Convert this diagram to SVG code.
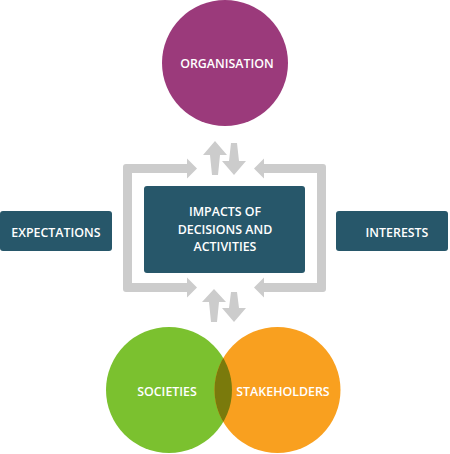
<svg xmlns="http://www.w3.org/2000/svg" width="450" height="454" viewBox="0 0 450 454">
<style>
.lbl{font-family:"Open Sans","Liberation Sans",sans-serif;font-weight:600;font-size:12.4px;fill:#ffffff;text-anchor:middle;dominant-baseline:central}
.box{fill:#27576A}
.conn{fill:#CCCCCC}
</style>
<defs>
<clipPath id="clipGreen"><circle cx="169" cy="390" r="63"/></clipPath>
</defs>
<rect width="450" height="454" fill="#ffffff"/>
<g id="connectors">
<path class="conn" d="M197,168.5 L187,158.5 L187,164 L126,164 Q123,164 123,167 L123,289 Q123,292 126,292 L187,292 L187,297.5 L197,287.5 L187,277.5 L187,283 L132,283 L132,173 L187,173 L187,178.5 Z"/>
<path class="conn" d="M254,168.5 L264,158.5 L264,164 L323,164 Q326,164 326,167 L326,289 Q326,292 323,292 L264,292 L264,297.5 L254,287.5 L264,277.5 L264,283 L317,283 L317,173 L264,173 L264,178.5 Z"/>
<path class="conn" d="M215,141 L227,155 L220,155 L218,175 L212,175 L210,155 L203,155 Z"/>
<path class="conn" d="M231,143 L237,143 L239,161 L246,161 L234,175 L222,161 L229,161 Z"/>
<path class="conn" d="M214,289 L226,302 L219,302 L217,322 L211,322 L209,302 L202,302 Z"/>
<path class="conn" d="M231,292 L237,292 L239,308 L246,308 L234,322 L222,308 L229,308 Z"/>
</g>
<g id="organisation">
<circle cx="225" cy="63" r="63" fill="#9B3A7B"/>
<text class="lbl" x="227" y="63">ORGANISATION</text>
</g>
<g id="impacts">
<rect class="box" x="144" y="186" width="161" height="87" rx="3"/>
<text class="lbl" x="225" y="211">IMPACTS OF</text>
<text class="lbl" x="225" y="229">DECISIONS AND</text>
<text class="lbl" x="225" y="246">ACTIVITIES</text>
</g>
<g id="expectations">
<rect class="box" x="0" y="211" width="112" height="40" rx="3"/>
<text class="lbl" x="56" y="232">EXPECTATIONS</text>
</g>
<g id="interests">
<rect class="box" x="336" y="211" width="112" height="40" rx="3"/>
<text class="lbl" x="397" y="232">INTERESTS</text>
</g>
<g id="societies">
<circle cx="169" cy="390" r="63" fill="#7BC12F"/>
</g>
<g id="stakeholders">
<circle cx="277.5" cy="390" r="63" fill="#F9A01F"/>
<circle cx="277.5" cy="390" r="63" fill="#7A7A0C" clip-path="url(#clipGreen)"/>
</g>
<text class="lbl" x="167" y="391">SOCIETIES</text>
<text class="lbl" x="283" y="391">STAKEHOLDERS</text>
</svg>
